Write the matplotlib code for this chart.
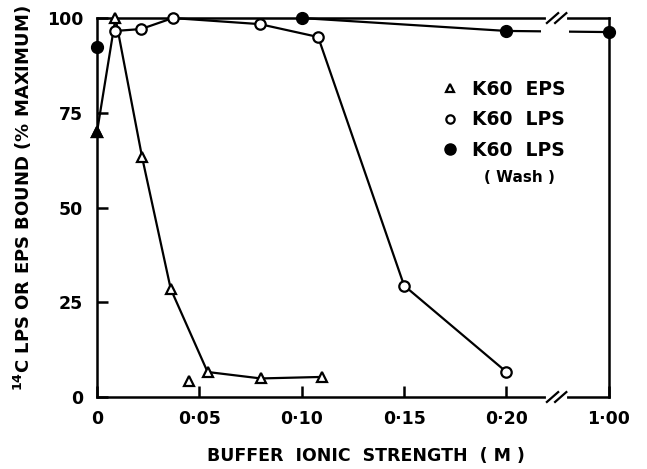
import numpy as np
import matplotlib
matplotlib.use("Agg")
import matplotlib.pyplot as plt
from matplotlib.lines import Line2D

# ---------------- data ----------------
eps_x = [0.0, 0.009, 0.022, 0.036, 0.054, 0.080, 0.110]
eps_y = [70.0, 100.0, 63.3, 28.5, 6.6, 4.9, 5.3]
eps_lone_x = [0.045]
eps_lone_y = [4.2]

lps_x = [0.009, 0.0215, 0.037, 0.0795, 0.108, 0.150, 0.200]
lps_y = [96.6, 97.1, 100.0, 98.4, 95.0, 29.4, 6.6]

wash_x = [0.0, 0.10, 0.20, 1.00]
wash_y = [92.3, 100.0, 96.6, 96.3]

xticks = [0.0, 0.05, 0.10, 0.15, 0.20, 1.00]
xtick_labels = ["0", "0·05", "0·10", "0·15", "0·20", "1·00"]
yticks = [0, 25, 50, 75, 100]
ytick_labels = ["0", "25", "50", "75", "100"]

# ---------------- broken x scale ----------------
B = 0.22
K = 0.03 / 0.78


def fwd(x):
    x = np.asarray(x, dtype=float)
    return np.where(x <= B, x, B + (x - B) * K)


def inv(t):
    t = np.asarray(t, dtype=float)
    return np.where(t <= B, t, B + (t - B) / K)


plt.rcParams['font.family'] = ['DejaVu Sans']
plt.rcParams['font.weight'] = 'bold'
plt.rcParams['mathtext.default'] = 'bf'

fig = plt.figure(figsize=(6.47, 4.69), dpi=100)
ax = fig.add_axes([0.150, 0.1535, 0.791, 0.808])
ax.set_xscale('function', functions=(fwd, inv))
ax.set_xlim(0, 1.0)
ax.set_ylim(0, 100)

lw = 1.6
mew = 1.6

# EPS
ax.plot(eps_x, eps_y, color='black', lw=lw, marker='^', ms=7.5,
        mfc='white', mec='black', mew=mew, clip_on=False, zorder=3)
ax.plot(eps_x[:1], eps_y[:1], ls='none', marker='^', ms=7.5,
        mfc='black', mec='black', mew=mew, clip_on=False, zorder=4)
ax.plot(eps_lone_x, eps_lone_y, ls='none', marker='^', ms=7.5,
        mfc='white', mec='black', mew=mew, clip_on=False, zorder=3)

# LPS
ax.plot(lps_x, lps_y, color='black', lw=lw, marker='o', ms=7.5,
        mfc='white', mec='black', mew=mew, clip_on=False, zorder=5)

# Wash
ax.plot(wash_x[1:], wash_y[1:], color='black', lw=lw, marker='o', ms=8.5,
        mfc='black', mec='black', clip_on=False, zorder=3)
ax.plot(wash_x[:1], wash_y[:1], ls='none', marker='o', ms=8.5,
        mfc='black', mec='black', clip_on=False, zorder=3)

# gap in the line at the axis break
ax.axvspan(float(inv(0.2170)), float(inv(0.2305)), ymin=0.9, ymax=0.99,
           color='white', zorder=4, lw=0)

# spines / ticks
for s in ax.spines.values():
    s.set_linewidth(1.8)
ax.set_xticks(xticks)
ax.set_xticklabels(xtick_labels)
ax.set_yticks(yticks)
ax.set_yticklabels(ytick_labels)
ax.xaxis.set_minor_locator(matplotlib.ticker.NullLocator())
ax.tick_params(axis='both', direction='in', length=8, width=1.8,
               labelsize=12.5)
ax.tick_params(axis='y', pad=10)
ax.tick_params(axis='x', pad=9)

# break marks on top and bottom spines
bx = 0.898
for yb in (0.0, 1.0):
    ax.plot([bx - 0.016, bx + 0.016], [yb, yb], transform=ax.transAxes,
            color='white', lw=3, clip_on=False, zorder=6)
    for off in (-0.008, 0.008):
        ax.plot([bx + off - 0.011, bx + off + 0.011], [yb - 0.013, yb + 0.013],
                transform=ax.transAxes, color='black', lw=1.6,
                clip_on=False, zorder=7)

ax.set_xlabel("BUFFER  IONIC  STRENGTH  ( M )", fontsize=12.5,
              fontweight='bold')
ax.xaxis.set_label_coords(0.525, -0.133)
ax.set_ylabel(r"$^{14}$C LPS OR EPS BOUND (% MAXIMUM)", fontsize=13,
              fontweight='bold')
ax.yaxis.set_label_coords(-0.124, 0.524)

handles = [
    Line2D([], [], ls='none', marker='^', ms=6, mfc='white', mec='black', mew=1.6),
    Line2D([], [], ls='none', marker='o', ms=6, mfc='white', mec='black', mew=1.6),
    Line2D([], [], ls='none', marker='o', ms=8, mfc='black', mec='black'),
]
leg = ax.legend(handles, ["K60  EPS", "K60  LPS", "K60  LPS"], frameon=False,
                loc='upper left', bbox_to_anchor=(0.66, 0.857),
                prop={'size': 13.5, 'weight': 'bold'}, handlelength=0.8,
                handletextpad=0.8, labelspacing=0.62, borderaxespad=0)
ax.text(0.826, 0.579, "( Wash )", transform=ax.transAxes, ha='center',
        va='center', fontsize=11, fontweight='bold')

fig.savefig("out.png", dpi=100)
